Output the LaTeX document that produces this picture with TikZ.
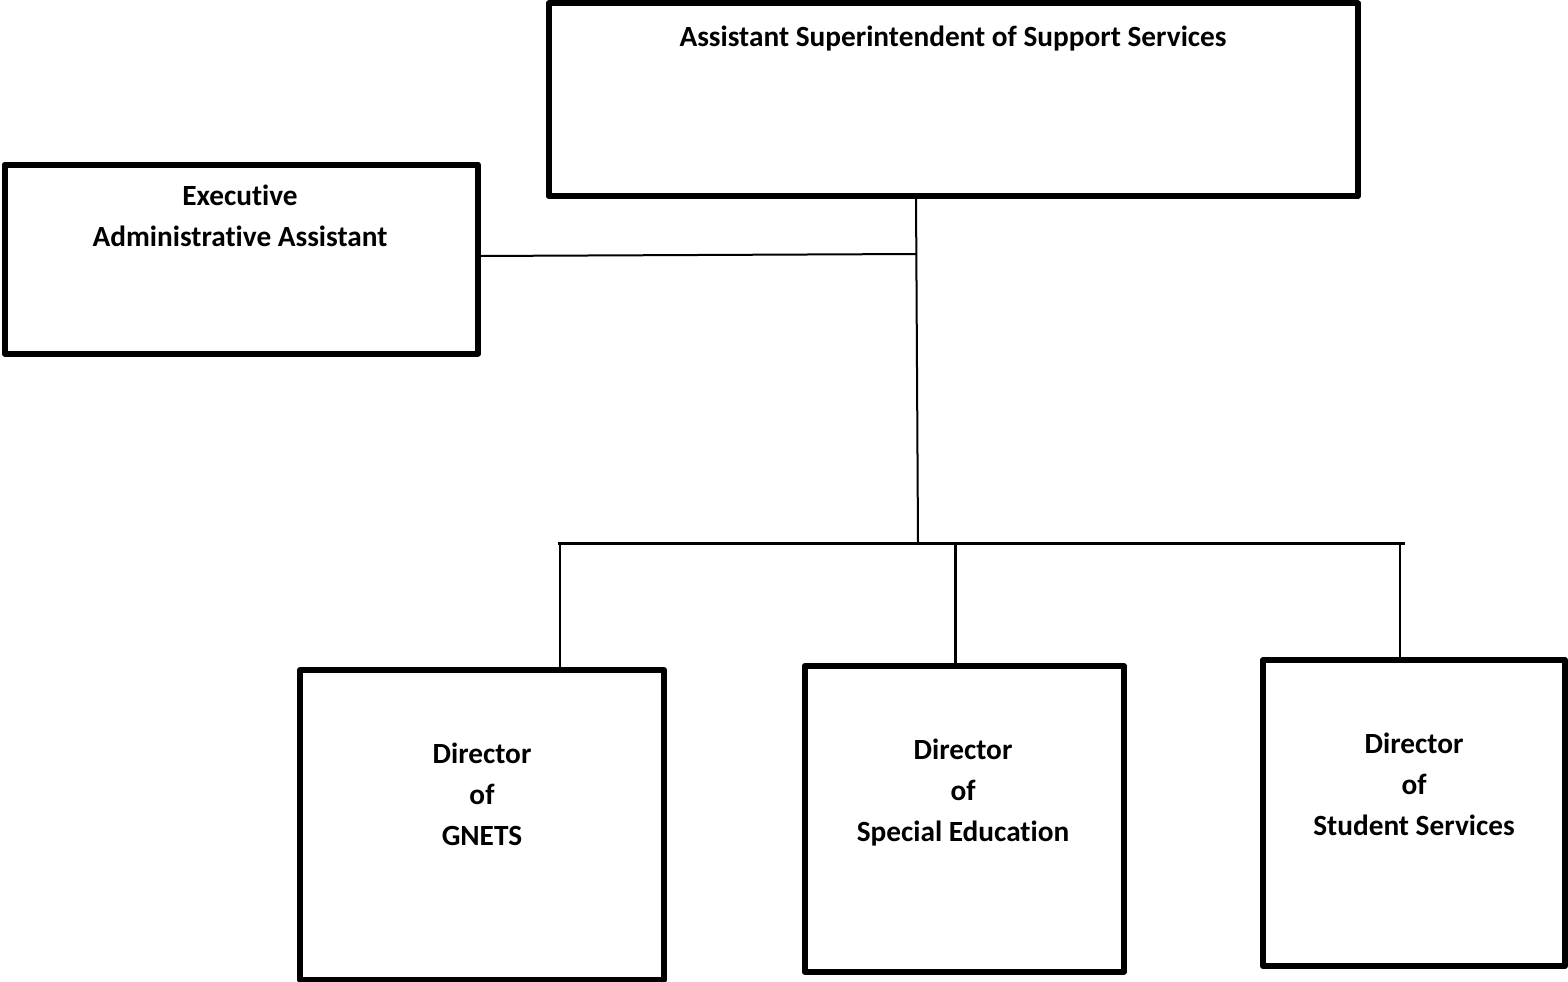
\documentclass[tikz,border=0pt]{standalone}
\usepackage{fontspec}
\setmainfont{Carlito}[RawFeature={-liga;-clig}]
\begin{document}
\begin{tikzpicture}[x=1pt,y=-1pt,
  box/.style={draw=black,line width=6pt,line join=round,rectangle,inner sep=0pt,outer sep=0pt},
  lbl/.style={anchor=base,inner sep=0pt,font=\fontsize{29.3}{41}\selectfont\bfseries},
  conn/.style={draw=black,line width=2pt},
  bar/.style={draw=black,line width=3pt}]
\useasboundingbox (0,0) rectangle (1568,982);
% boxes
\node[box,minimum width=809.5pt,minimum height=192.5pt] (top) at (953.25,99.75) {};
\node[box,minimum width=473.5pt,minimum height=189pt] (exec) at (241.25,259) {};
\node[box,minimum width=364pt,minimum height=309.5pt] (gnets) at (482,824.75) {};
\node[box,minimum width=319.5pt,minimum height=305.5pt] (sped) at (964.25,818.75) {};
\node[box,minimum width=302pt,minimum height=306pt] (stud) at (1414,813) {};
% labels
\node[lbl] (t1) at (953,47) {Assistant Superintendent of Support Services};
\node[lbl] (e1) at (240,205) {Executive};
\node[lbl] (e2) at (240,246) {Administrative Assistant};
\node[lbl] (g1) at (482,763) {Director};
\node[lbl] (g2) at (482,804) {of};
\node[lbl] (g3) at (482,845) {GNETS};
\node[lbl] (s1) at (963,759) {Director};
\node[lbl] (s2) at (963,800) {of};
\node[lbl] (s3) at (963,841) {Special Education};
\node[lbl] (u1) at (1414,753) {Director};
\node[lbl] (u2) at (1414,794) {of};
\node[lbl] (u3) at (1414,835) {Student Services};
% connector coordinates
\coordinate (topout) at (916,196);
\coordinate (mid) at (916.5,254);
\coordinate (junc) at (918,543);
\coordinate (barL) at (558,543);
\coordinate (barR) at (1405,543);
\coordinate (dropG) at (560,543);
\coordinate (dropS) at (955,543);
\coordinate (dropU) at (1400,543);
% connectors
\draw[conn] (topout) -- (junc);
\draw[conn] ([yshift=3pt]exec.east) -- (mid);
\draw[bar] (barL) -- (barR);
\draw[conn] (dropG) -- (dropG |- gnets.north);
\draw[bar] (dropS) -- (dropS |- sped.north);
\draw[conn] (dropU) -- (dropU |- stud.north);
\end{tikzpicture}
\end{document}
